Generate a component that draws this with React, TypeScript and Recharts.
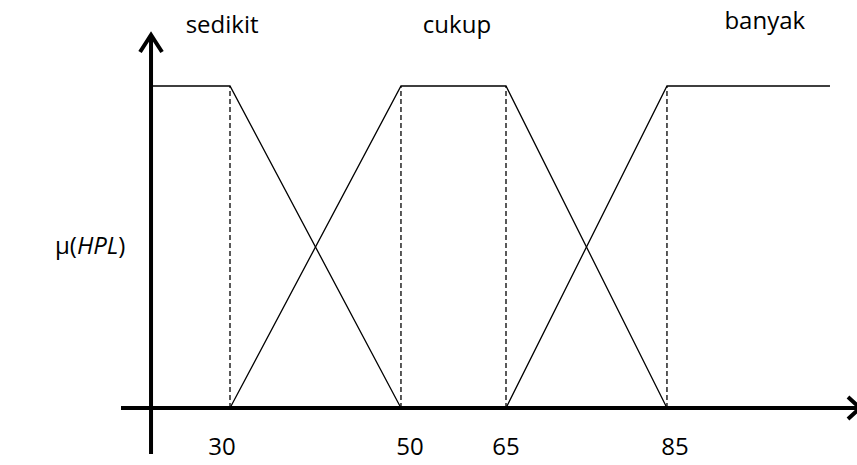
import React from 'react';
import { LineChart, Line, XAxis, YAxis, ReferenceLine, ReferenceDot } from 'recharts';

// ---- data ----
const SET_NAMES = ['sedikit', 'cukup', 'banyak'];
const sedikitX = [0, 30, 50];
const sedikitMu = [1, 1, 0];
const cukupX = [30, 50, 65, 85];
const cukupMu = [0, 1, 1, 0];
const banyakX = [65, 85, 100];
const banyakMu = [0, 1, 1];
const TICKS = [30, 50, 65, 85];
const LABEL_X = [27, 58, 94];
const LABEL_MU = [1.19, 1.19, 1.205];

const toRows = (xs: number[], mus: number[]) => xs.map((x, i) => ({ x, mu: mus[i] }));
const SERIES = [toRows(sedikitX, sedikitMu), toRows(cukupX, cukupMu), toRows(banyakX, banyakMu)];

// ---- not-to-scale (piecewise) horizontal axis, as in the schematic ----
const KNOT_VALUES = [0, 30, 50, 65, 85, 100];
const KNOT_FRAC = [0.0408, 0.1481, 0.3804, 0.5231, 0.7418, 0.9633];

function piecewiseScale(): any {
  let dom: number[] = [-10, 110];
  let rng: number[] = [0, 1];
  const frac = (v: number) => {
    const n = KNOT_VALUES.length;
    let i = 0;
    if (v <= KNOT_VALUES[0]) i = 0;
    else if (v >= KNOT_VALUES[n - 1]) i = n - 2;
    else {
      while (i < n - 2 && v > KNOT_VALUES[i + 1]) i++;
    }
    const t = (v - KNOT_VALUES[i]) / (KNOT_VALUES[i + 1] - KNOT_VALUES[i]);
    return KNOT_FRAC[i] + t * (KNOT_FRAC[i + 1] - KNOT_FRAC[i]);
  };
  const s: any = (v: number) => rng[0] + frac(v) * (rng[rng.length - 1] - rng[0]);
  s.domain = (d?: number[]) => {
    if (d === undefined) return dom.slice();
    dom = d.slice();
    return s;
  };
  s.range = (r?: number[]) => {
    if (r === undefined) return rng.slice();
    rng = r.slice();
    return s;
  };
  s.copy = () => piecewiseScale().domain(dom).range(rng);
  s.ticks = () => TICKS.slice();
  s.tickFormat = () => (v: number) => String(v);
  s.clamp = () => s;
  s.nice = () => s;
  s.unknown = () => s;
  return s;
}
const X_SCALE = piecewiseScale();

const FONT = '"Open Sans", sans-serif';
const FS = 24;
const TICK_NUDGE = [-8, 9, 0, 8];

const XTick = (props: any) => {
  const { x, y, payload, index } = props;
  return (
    <text x={x + (TICK_NUDGE[index] || 0)} y={y + 1} textAnchor="middle" fontSize={FS} fontFamily={FONT} fill="#000">
      {payload.value}
    </text>
  );
};

const XAxisShape = (p: any) => {
  const xa = Math.min(p.x1, p.x2);
  const xb = Math.max(p.x1, p.x2);
  const y = p.y1;
  return (
    <g>
      <line x1={xa} y1={y} x2={xb + 1} y2={y} stroke="#000" strokeWidth={4} />
      <polyline points={`${xb - 9},${y - 11} ${xb + 3},${y} ${xb - 9},${y + 11}`} fill="none" stroke="#000" strokeWidth={4} />
    </g>
  );
};

const YAxisShape = (p: any) => {
  const ya = Math.min(p.y1, p.y2);
  const yb = Math.max(p.y1, p.y2);
  const x = p.x1;
  return (
    <g>
      <line x1={x} y1={yb} x2={x} y2={ya + 3} stroke="#000" strokeWidth={4} />
      <polyline points={`${x - 11},${ya + 19} ${x},${ya + 2} ${x + 11},${ya + 19}`} fill="none" stroke="#000" strokeWidth={4} />
    </g>
  );
};

const MuLabel = (props: any) => {
  const vb = props.viewBox || {};
  const cy = (vb.y || 0) + (vb.height || 0) / 2;
  return (
    <text x={(vb.x || 0) + 55} y={cy + 10} fontSize={FS} fontFamily={FONT} fill="#000">
      μ(<tspan fontStyle="italic">HPL</tspan>)
    </text>
  );
};

export default function App() {
  return (
    <div style={{ position: 'absolute', left: 0, top: 0, background: '#fff' }}>
      <LineChart width={857} height={465} margin={{ top: 33, right: 0, bottom: 10, left: 0 }} style={{ fontFamily: FONT }}>
        <XAxis
          dataKey="x"
          type="number"
          scale={X_SCALE}
          domain={[-10, 110]}
          allowDataOverflow
          ticks={TICKS}
          interval={0}
          axisLine={false}
          tickLine={false}
          tickSize={0}
          tickMargin={0}
          height={1}
          tick={<XTick />}
        />
        <YAxis
          type="number"
          domain={[-0.1429, 1.1646]}
          allowDataOverflow
          width={121}
          axisLine={false}
          tickLine={false}
          tick={false}
          label={<MuLabel />}
        />
        <ReferenceLine y={0} shape={XAxisShape} />
        <ReferenceLine x={0} shape={YAxisShape} />
        {TICKS.map((t) => (
          <ReferenceLine
            key={'d' + t}
            segment={[{ x: t, y: 0 }, { x: t, y: 1 }]}
            stroke="#000"
            strokeWidth={1.3}
            strokeDasharray="5 3"
          />
        ))}
        {SERIES.map((rows, i) => (
          <Line
            key={SET_NAMES[i]}
            data={rows}
            dataKey="mu"
            name={SET_NAMES[i]}
            stroke="#000"
            strokeWidth={1.3}
            dot={false}
            activeDot={false}
            isAnimationActive={false}
          />
        ))}
        {SET_NAMES.map((n, i) => (
          <ReferenceDot
            key={'l' + n}
            x={LABEL_X[i]}
            y={LABEL_MU[i]}
            r={0}
            ifOverflow="visible"
            fill="none"
            stroke="none"
            label={{ value: n, position: 'center', fontSize: FS, fontFamily: FONT, fill: '#000' }}
          />
        ))}
      </LineChart>
    </div>
  );
}
